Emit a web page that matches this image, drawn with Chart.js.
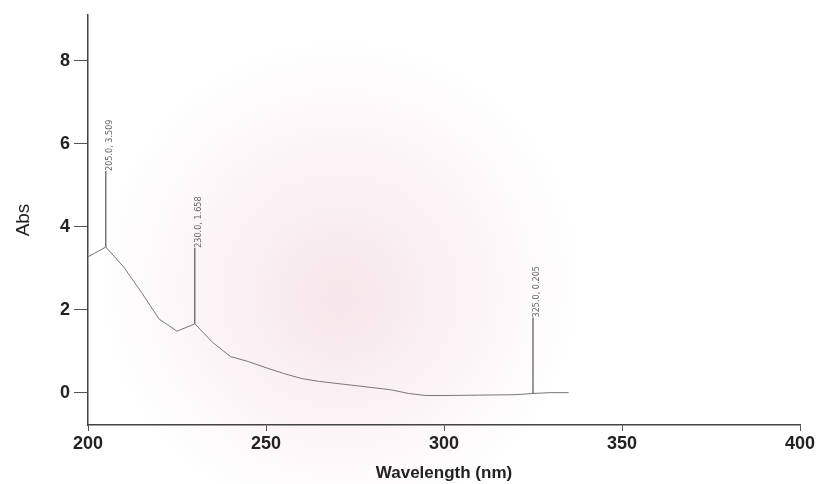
<!DOCTYPE html>
<html>
<head>
<meta charset="utf-8">
<script src="https://cdn.jsdelivr.net/npm/chart.js@4.4.0/dist/chart.umd.min.js"></script>
<style>
  html, body { margin: 0; padding: 0; background: #fff; }
  #wrap { width: 831px; height: 484px; }
</style>
</head>
<body>
<div id="wrap"><canvas id="myChart" width="831" height="484"></canvas></div>
<script>
// spectrum
var wavelengths = [200, 205, 210, 215, 220, 225, 230, 235, 240, 245, 250, 255, 260, 265, 270, 280, 285, 290, 295, 300, 310, 320, 325, 330, 335];
var absorbance  = [3.27, 3.509, 3.03, 2.42, 1.77, 1.48, 1.658, 1.21, 0.87, 0.75, 0.60, 0.46, 0.34, 0.27, 0.22, 0.12, 0.07, -0.02, -0.07, -0.07, -0.06, -0.05, -0.02, 0, 0];

// peak picks printed on the chart
var peakNm    = [205, 230, 325];
var peakLabel = ['205.0, 3.509', '230.0, 1.658', '325.0, 0.205'];

var yTicks = [0, 2, 4, 6, 8];
var xTicks = [200, 250, 300, 350, 400];

var points = wavelengths.map(function (w, i) { return { x: w, y: absorbance[i] }; });

var paperBg = {
    id: 'paperBg',
    beforeDraw: function (chart) {
        var c = chart.ctx;
        c.save();
        c.fillStyle = '#ffffff';
        c.fillRect(0, 0, chart.width, chart.height);
        var g = c.createRadialGradient(340, 300, 10, 340, 280, 240);
        g.addColorStop(0, 'rgba(236,200,210,0.45)');
        g.addColorStop(1, 'rgba(236,200,210,0)');
        c.fillStyle = g;
        c.fillRect(0, 0, chart.width, chart.height);
        c.restore();
    }
};

var peakSticks = {
    id: 'peakSticks',
    afterDatasetsDraw: function (chart) {
        var c = chart.ctx;
        var xs = chart.scales.x, ys = chart.scales.y;
        c.save();
        peakNm.forEach(function (nm, i) {
            var idx = wavelengths.indexOf(nm);
            var px = xs.getPixelForValue(nm);
            var py = ys.getPixelForValue(absorbance[idx]);
            var top = py - 76;
            c.strokeStyle = '#555';
            c.lineWidth = 1.2;
            c.beginPath();
            c.moveTo(px, py);
            c.lineTo(px, top);
            c.stroke();
            c.translate(px + 4, top);
            c.rotate(-Math.PI / 2);
            c.fillStyle = '#666';
            c.font = '9px "Liberation Sans Narrow", "DejaVu Sans Condensed", sans-serif';
            c.textAlign = 'left';
            c.textBaseline = 'middle';
            c.fillText(peakLabel[i], 0, 0);
            c.setTransform(1, 0, 0, 1, 0, 0);
        });
        c.restore();
    }
};

var ctx = document.getElementById('myChart').getContext('2d');
var myChart = new Chart(ctx, {
    type: 'line',
    data: {
        datasets: [{
            label: 'Abs',
            data: points,
            borderColor: '#777',
            borderWidth: 1,
            pointRadius: 0,
            tension: 0,
            fill: false
        }]
    },
    options: {
        responsive: false,
        animation: false,
        layout: { padding: { top: 15, right: 31, left: 12, bottom: 0 } },
        plugins: {
            legend: { display: false },
            tooltip: { enabled: false }
        },
        scales: {
            x: {
                type: 'linear',
                min: 200,
                max: 400,
                afterBuildTicks: function (s) { s.ticks = xTicks.map(function (v) { return { value: v }; }); },
                afterFit: function (s) { s.height = 59; },
                grid: { display: true, drawOnChartArea: false, drawTicks: true, tickLength: 6, color: '#555' },
                border: { color: '#444', width: 1.5 },
                ticks: {
                    color: '#222',
                    padding: 2,
                    maxRotation: 0,
                    font: { family: 'Liberation Sans, Arial, sans-serif', size: 18, weight: 'bold' }
                },
                title: {
                    display: true,
                    text: 'Wavelength (nm)',
                    color: '#222',
                    padding: { top: 0, bottom: 0 },
                    font: { family: 'Liberation Sans, Arial, sans-serif', size: 17, weight: 'bold' }
                }
            },
            y: {
                min: -0.78,
                max: 9.1,
                afterBuildTicks: function (s) { s.ticks = yTicks.map(function (v) { return { value: v }; }); },
                afterFit: function (s) { s.width = 76; },
                grid: { display: true, drawOnChartArea: false, drawTicks: true, tickLength: 14, color: '#555' },
                border: { color: '#444', width: 1.5 },
                ticks: {
                    color: '#222',
                    padding: 4,
                    font: { family: 'Liberation Sans, Arial, sans-serif', size: 18, weight: 'bold' }
                },
                title: {
                    display: true,
                    text: 'Abs',
                    color: '#222',
                    padding: { top: 0, bottom: 10 },
                    font: { family: 'Liberation Sans, Arial, sans-serif', size: 19 }
                }
            }
        }
    },
    plugins: [paperBg, peakSticks]
});
</script>
</body>
</html>
